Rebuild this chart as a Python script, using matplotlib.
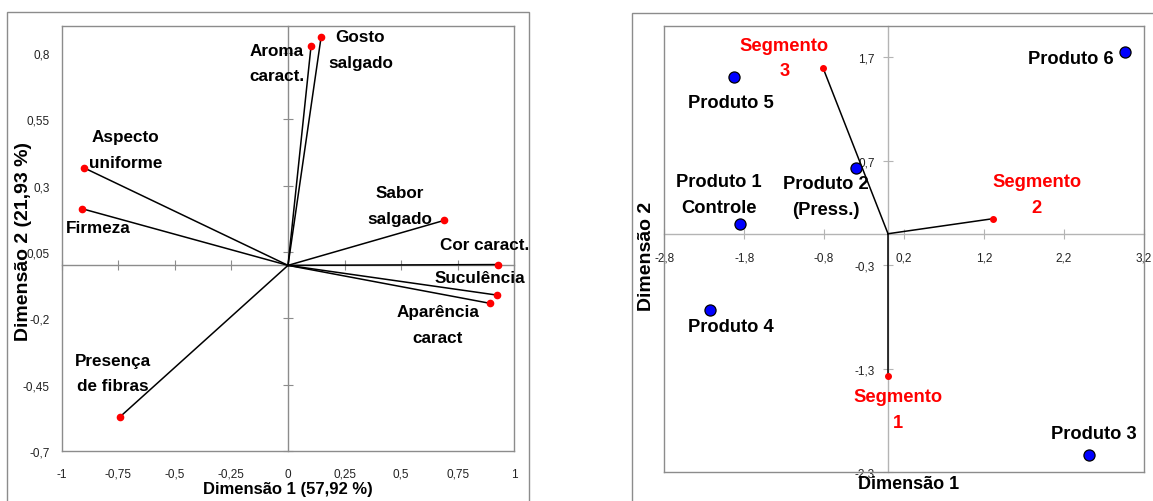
import numpy as np
import matplotlib
matplotlib.use("Agg")
import matplotlib.pyplot as plt
from matplotlib.patches import Rectangle

plt.rcParams['font.family'] = ['Liberation Sans', 'DejaVu Sans']

# Attribute loadings (left biplot)
attr_names = ["Aroma\ncaract.", "Gosto\nsalgado", "Aspecto\nuniforme", "Firmeza",
              "Sabor\nsalgado", "Cor caract.", "Suculência", "Aparência\ncaract",
              "Presença\nde fibras"]
attr_dim1 = [0.102, 0.146, -0.901, -0.909, 0.689, 0.929, 0.924, 0.893, -0.742]
attr_dim2 = [0.827, 0.858, 0.367, 0.213, 0.169, 0.003, -0.112, -0.143, -0.570]

# Products and consumer segments (right map)
prod_names = ["Produto 1\nControle", "Produto 2\n(Press.)", "Produto 3",
              "Produto 4", "Produto 5", "Produto 6"]
prod_dim1 = [-1.855, -0.401, 2.519, -2.231, -1.930, 2.961]
prod_dim2 = [0.097, 0.633, -2.134, -0.736, 1.513, 1.754]

seg_names = ["Segmento\n1", "Segmento\n2", "Segmento\n3"]
seg_dim1 = [0.0, 1.312, -0.811]
seg_dim2 = [-1.371, 0.145, 1.594]

left_xticks = [-1, -0.75, -0.5, -0.25, 0, 0.25, 0.5, 0.75, 1]
left_xlabels = ["-1", "-0,75", "-0,5", "-0,25", "0", "0,25", "0,5", "0,75", "1"]
left_yticks = [-0.7, -0.45, -0.2, 0.05, 0.3, 0.55, 0.8]
left_ylabels = ["-0,7", "-0,45", "-0,2", "0,05", "0,3", "0,55", "0,8"]

right_xticks = [-2.8, -1.8, -0.8, 0.2, 1.2, 2.2, 3.2]
right_xlabels = ["-2,8", "-1,8", "-0,8", "0,2", "1,2", "2,2", "3,2"]
right_yticks = [-2.3, -1.3, -0.3, 0.7, 1.7]
right_ylabels = ["-2,3", "-1,3", "-0,3", "0,7", "1,7"]

# label offsets in points from each marker
attr_offsets = [(-24.7, -12.5), (28.3, -8.6), (30, 13.2), (11.8, -13.7),
                (-31.9, 10.6), (-10.1, 14.1), (-12.2, 12.5), (-37.8, -15.1),
                (-5, 31.5)]
prod_offsets = [(-15.3, 20.9), (-21.6, -20.4), (3.1, 15.6), (15.1, -12),
                (-2.2, -18.4), (-38.6, -4.8)]
seg_offsets = [(7.1, -24), (31.7, 17.3), (-28.1, 7.6)]

FRAME = "#8c8c8c"
AXIS_L = "#8c8c8c"
AXIS_R = "#b4b4b4"
RED = "#ff0000"
TICKC = "#222222"

fig = plt.figure(figsize=(11.53, 5.02), dpi=100)

# outer chart frames
fig.add_artist(Rectangle((0.00633, -0.02), 0.45906 - 0.00633, 0.9735 + 0.02,
                         transform=fig.transFigure, fill=False, ec=FRAME, lw=1))
fig.add_artist(Rectangle((0.5484, -0.02), 0.47, 0.9721 + 0.02,
                         transform=fig.transFigure, fill=False, ec=FRAME, lw=1))


def style_box(ax):
    for sp in ax.spines.values():
        sp.set_color(FRAME)
        sp.set_linewidth(1)


def center_axes(ax, xticks, yticks, color, xlabels=None, ylabels=None):
    sx = ax.secondary_xaxis(0, transform=ax.transData)
    sy = ax.secondary_yaxis(0, transform=ax.transData)
    for s in (sx, sy):
        for sp in s.spines.values():
            sp.set_color(color)
            sp.set_linewidth(1)
    sx.set_xticks(xticks)
    sy.set_yticks(yticks)
    sx.tick_params(direction="inout", length=7, width=0.8, color=color,
                   labelsize=8.5, labelcolor=TICKC, pad=9)
    sy.tick_params(direction="inout", length=7, width=0.8, color=color,
                   labelsize=8.5, labelcolor=TICKC, pad=6)
    if xlabels is None:
        sx.tick_params(labelbottom=False, labeltop=False)
    else:
        sx.set_xticklabels(xlabels)
    if ylabels is None:
        sy.tick_params(labelleft=False, labelright=False)
    else:
        sy.set_yticklabels(ylabels)


# ---- left: attribute loadings ----
ax1 = fig.add_axes([0.05351, 0.0990, 0.39254, 0.84661])
ax1.set_xlim(-1, 1)
ax1.set_ylim(-0.7, 0.9)
style_box(ax1)
ax1.set_xticks(left_xticks)
ax1.set_xticklabels(left_xlabels)
ax1.set_yticks(left_yticks)
ax1.set_yticklabels(left_ylabels)
ax1.tick_params(length=0, labelsize=8.5, labelcolor=TICKC)
ax1.tick_params(axis="x", pad=12)
ax1.tick_params(axis="y", pad=8.5)
center_axes(ax1, left_xticks, left_yticks, AXIS_L)

for name, x, y, off in zip(attr_names, attr_dim1, attr_dim2, attr_offsets):
    ax1.plot([0, x], [0, y], color="black", lw=1.1, zorder=3)
    ax1.plot(x, y, "o", color=RED, ms=4.5, zorder=4)
    ax1.annotate(name, (x, y), xytext=off, textcoords="offset points",
                 ha="center", va="center", fontsize=12.3, fontweight="bold",
                 linespacing=1.9)

ax1.set_xlabel("Dimensão 1 (57,92 %)", fontsize=12, fontweight="bold")
ax1.xaxis.set_label_coords(0.5, -0.0864)
ax1.xaxis.label.set_va("center")
ax1.set_ylabel("Dimensão 2 (21,93 %)", fontsize=14, fontweight="bold")
ax1.yaxis.set_label_coords(-0.0833, 0.497)
ax1.yaxis.label.set_va("center")

# ---- right: products and segments ----
ax2 = fig.add_axes([0.57615, 0.05717, 0.41578, 0.88845])
ax2.set_xlim(-2.8, 3.2)
ax2.set_ylim(-2.3, 2.0)
style_box(ax2)
ax2.set_xticks([])
ax2.set_yticks([])
center_axes(ax2, right_xticks, right_yticks, AXIS_R, right_xlabels, right_ylabels)

for name, x, y, off in zip(seg_names, seg_dim1, seg_dim2, seg_offsets):
    ax2.plot([0, x], [0, y], color="black", lw=1.1, zorder=3)
    ax2.plot(x, y, "o", color=RED, ms=4, zorder=4)
    ax2.annotate(name, (x, y), xytext=off, textcoords="offset points",
                 ha="center", va="center", fontsize=13.2, fontweight="bold",
                 color=RED, linespacing=1.65)

for name, x, y, off in zip(prod_names, prod_dim1, prod_dim2, prod_offsets):
    ax2.plot(x, y, "o", color="#0000ff", mec="black", mew=0.9, ms=8, zorder=5)
    ax2.annotate(name, (x, y), xytext=off, textcoords="offset points",
                 ha="center", va="center", fontsize=13.2, fontweight="bold",
                 linespacing=1.65)

ax2.set_xlabel("Dimensão 1", fontsize=13, fontweight="bold")
ax2.xaxis.set_label_coords(0.5104, -0.024)
ax2.xaxis.label.set_va("center")
ax2.set_ylabel("Dimensão 2", fontsize=14, fontweight="bold")
ax2.yaxis.set_label_coords(-0.0367, 0.487)
ax2.yaxis.label.set_va("center")

fig.savefig("out.png", dpi=100)
